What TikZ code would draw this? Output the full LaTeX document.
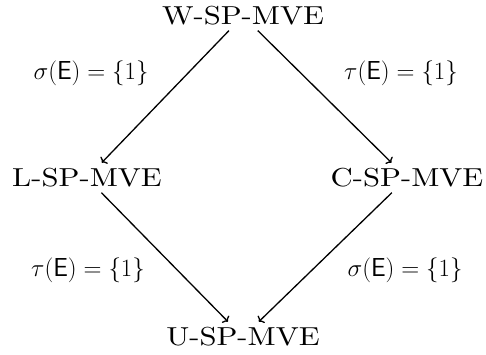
\documentclass[tikz,border=0pt]{standalone}
\usepackage{fontspec}
\usetikzlibrary{arrows.meta}
\newfontfamily\nodefont{lmroman10-regular.otf}[FakeStretch=1.18]
\begin{document}
\begin{tikzpicture}[x=1pt,y=-1pt,
  lbl/.style={font=\fontsize{26}{30}\selectfont, inner sep=0pt},
  nd/.style={font=\nodefont\fontsize{26}{30}\selectfont, inner sep=5pt},
  arr/.style={-{To[length=4pt,width=10pt]}, line width=1.3pt, shorten >=1pt}]
\useasboundingbox (0,0) rectangle (486,354);
\node[nd] (W) at (243,16) {W-SP-MVE};
\node[nd] (L) at (87,178) {L-SP-MVE};
\node[nd] (C) at (407,178) {C-SP-MVE};
\node[nd] (U) at (243,337) {U-SP-MVE};
\node[lbl] (l1) at (91,73) {$\sigma(\mathsf{E})=\{1\}$};
\node[lbl] (l2) at (401,73) {$\tau(\mathsf{E})=\{1\}$};
\node[lbl] (l3) at (88,270) {$\tau(\mathsf{E})=\{1\}$};
\node[lbl] (l4) at (405,270) {$\sigma(\mathsf{E})=\{1\}$};
\draw[arr] (W) -- (L);
\draw[arr] (W) -- (C);
\draw[arr] (L) -- (U);
\draw[arr] (C) -- (U);
\end{tikzpicture}
\end{document}
